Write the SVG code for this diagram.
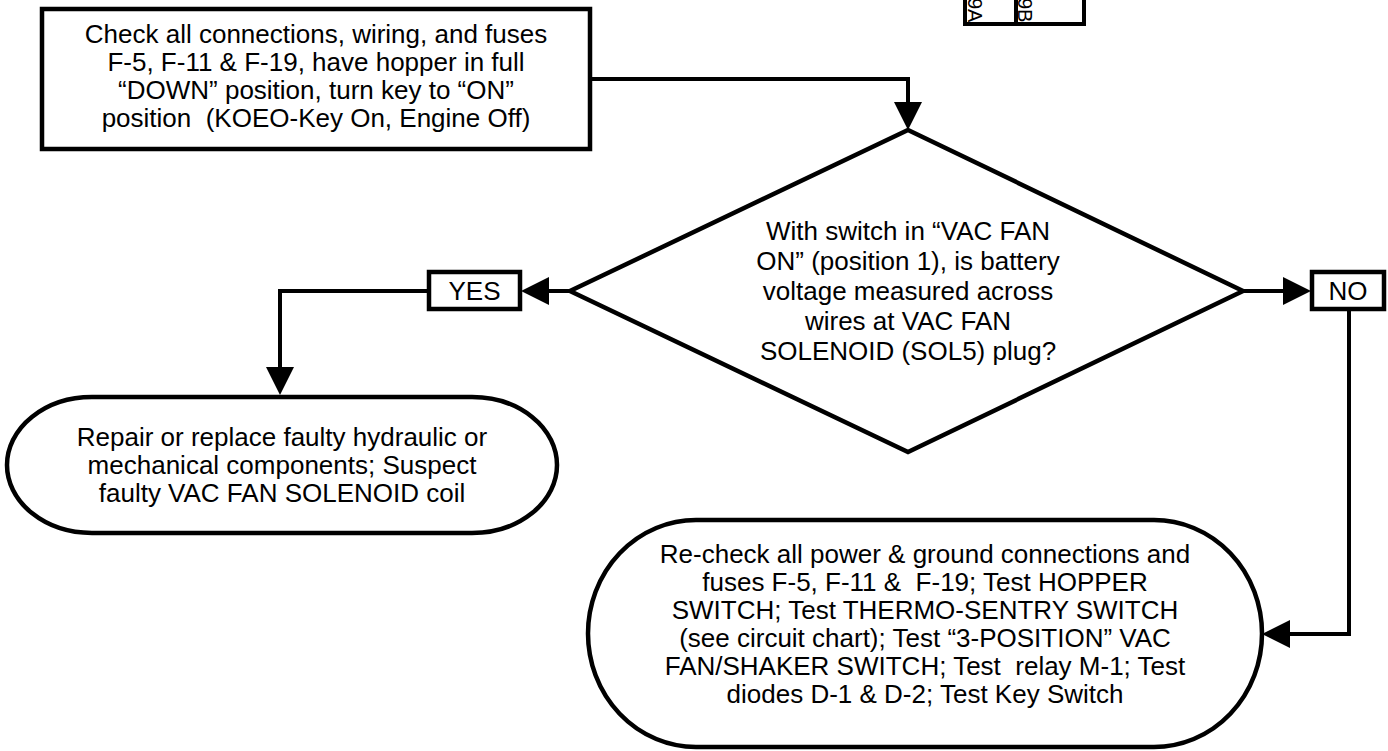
<svg xmlns="http://www.w3.org/2000/svg" width="1388" height="751" viewBox="0 0 1388 751">
  <style>
    .shape { fill: #ffffff; stroke: #000000; stroke-width: 4.5; }
    .wire { fill: none; stroke: #000000; stroke-width: 4; }
    .head { fill: #000000; stroke: none; }
    text { font-family: "Liberation Sans", Arial, sans-serif; font-size: 26px; fill: #000000; text-anchor: middle; white-space: pre; }
    .tag { font-size: 20px; text-anchor: start; }
  </style>

  <rect width="1388" height="751" fill="#ffffff"/>

  <!-- partial terminal strip at top edge -->
  <g id="terminal-strip">
    <path class="wire" d="M965,0 V24 H1084 V0 M1016,0 V24"/>
    <text class="tag" transform="translate(968,-2) rotate(90)">9A</text>
    <text class="tag" transform="translate(1018,-2) rotate(90)">9B</text>
  </g>

  <!-- connectors -->
  <g id="connectors">
    <path class="wire" d="M590,79 H908 V104"/>
    <polygon class="head" points="894,102 922,102 908,130"/>

    <path class="wire" d="M570,291 H547"/>
    <polygon class="head" points="549,277 549,305 521,291"/>
    <path class="wire" d="M429,291 H280 V369"/>
    <polygon class="head" points="266,367 294,367 280,395"/>

    <path class="wire" d="M1243,291 H1285"/>
    <polygon class="head" points="1283,277 1283,305 1311,291"/>
    <path class="wire" d="M1349,309 V634 H1288"/>
    <polygon class="head" points="1290,620 1290,648 1262,634"/>
  </g>

  <g id="start">
    <rect class="shape" x="42" y="9" width="548" height="140"/>
    <text x="316" y="43">Check all connections, wiring, and fuses</text>
    <text x="316" y="71">F-5, F-11 &amp; F-19, have hopper in full</text>
    <text x="316" y="99">“DOWN” position, turn key to “ON”</text>
    <text x="316" y="127">position  (KOEO-Key On, Engine Off)</text>
  </g>

  <g id="decision">
    <polygon class="shape" points="908,130 1243,291 908,452 570,291"/>
    <text x="908" y="240">With switch in “VAC FAN</text>
    <text x="908" y="270">ON” (position 1), is battery</text>
    <text x="908" y="300">voltage measured across</text>
    <text x="908" y="330">wires at VAC FAN</text>
    <text x="908" y="360">SOLENOID (SOL5) plug?</text>
  </g>

  <g id="label-yes">
    <rect class="shape" x="429" y="272" width="91" height="37"/>
    <text x="474.5" y="300">YES</text>
  </g>

  <g id="label-no">
    <rect class="shape" x="1312" y="272" width="72" height="37"/>
    <text x="1348" y="300">NO</text>
  </g>

  <g id="result-yes">
    <path class="shape" d="M92,397 H472 A85,68 0 0 1 472,533 H92 A85,68 0 0 1 92,397 Z"/>
    <text x="282" y="446">Repair or replace faulty hydraulic or</text>
    <text x="282" y="474">mechanical components; Suspect</text>
    <text x="282" y="502">faulty VAC FAN SOLENOID coil</text>
  </g>

  <g id="result-no">
    <path class="shape" d="M696,520 H1154 A108,113.5 0 0 1 1154,747 H696 A108,113.5 0 0 1 696,520 Z"/>
    <text x="925" y="563">Re-check all power &amp; ground connections and</text>
    <text x="925" y="591">fuses F-5, F-11 &amp;  F-19; Test HOPPER</text>
    <text x="925" y="619">SWITCH; Test THERMO-SENTRY SWITCH</text>
    <text x="925" y="647">(see circuit chart); Test “3-POSITION” VAC</text>
    <text x="925" y="675">FAN/SHAKER SWITCH; Test  relay M-1; Test</text>
    <text x="925" y="703">diodes D-1 &amp; D-2; Test Key Switch</text>
  </g>
</svg>
